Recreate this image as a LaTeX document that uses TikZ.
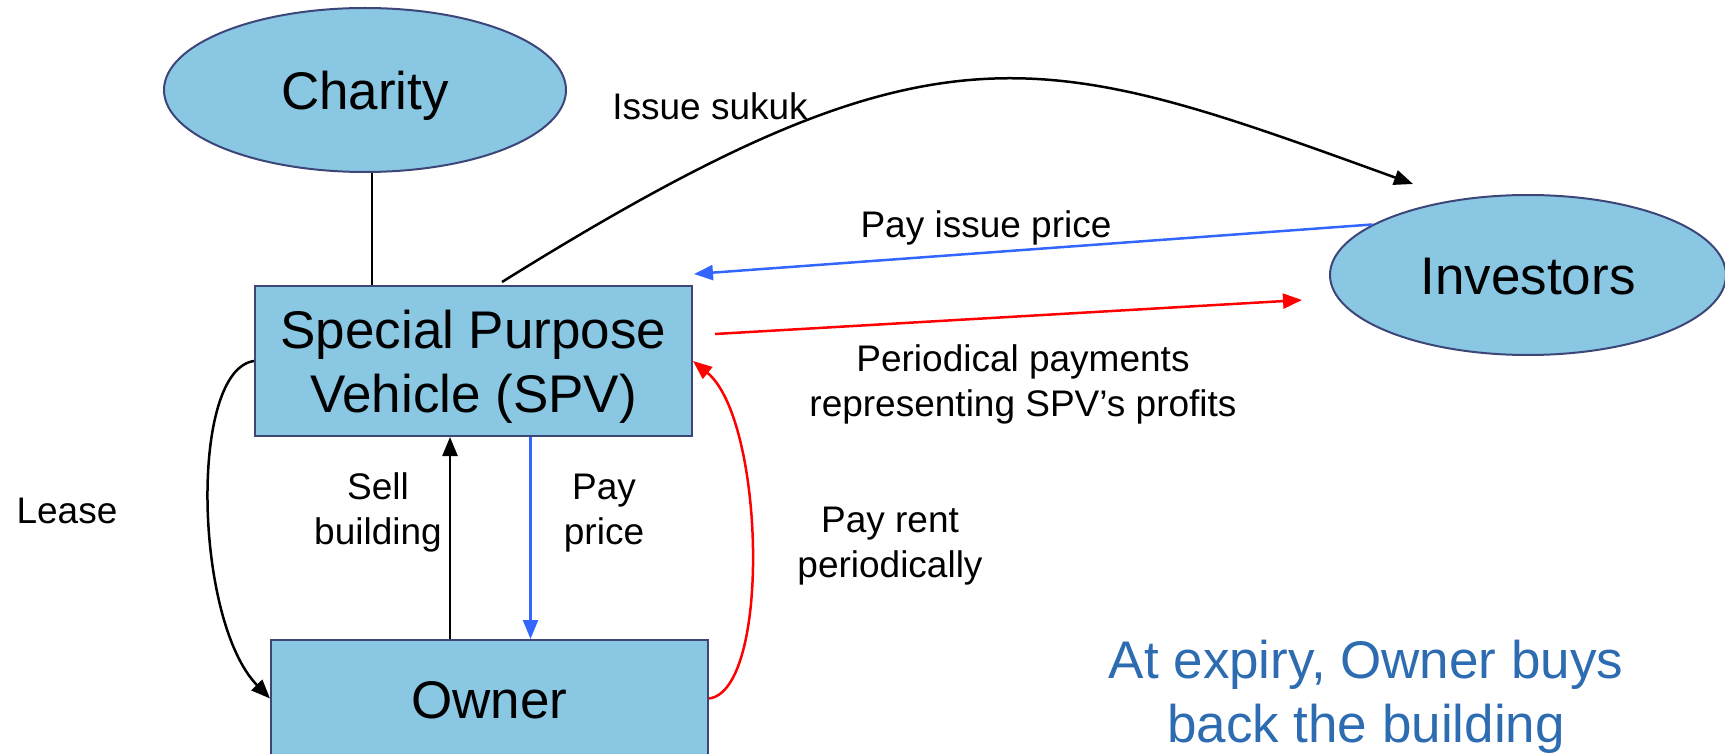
\documentclass[tikz,border=0pt]{standalone}
\usepackage{fontspec}
\setmainfont{Liberation Sans}
\usetikzlibrary{shapes.geometric,arrows.meta}
\definecolor{boxfill}{RGB}{137,199,227}
\definecolor{boxline}{RGB}{60,70,120}
\definecolor{flowblue}{RGB}{51,102,255}
\definecolor{flowred}{RGB}{255,0,0}
\definecolor{notetext}{RGB}{46,108,178}
\tikzset{
  bigfont/.style={font=\fontsize{26.5pt}{32pt}\selectfont},
  smallfont/.style={font=\fontsize{18.5pt}{22.5pt}\selectfont},
  party/.style={draw=boxline, fill=boxfill, line width=1pt, inner sep=0pt,
    bigfont, text height=20pt, text depth=0pt},
  oval/.style={party, ellipse},
  block/.style={party, rectangle, align=center},
  % multi-line tags sit on the baseline of their last line
  tag/.style={smallfont, align=center, anchor=base, inner sep=0pt},
  flow/.style={line width=1.25pt, -{Triangle[length=9.5pt,width=7.5pt]}},
  link/.style={line width=1.1pt},
}
\begin{document}
\begin{tikzpicture}[x=0.5pt, y=-0.5pt]
  \useasboundingbox (0,0) rectangle (1725,754);
  \clip (0,0) rectangle (1725,754);

  % parties
  \node[oval, minimum width=201pt, minimum height=82pt] (charity) at (365,90) {Charity};
  \node[oval, minimum width=198pt, minimum height=80pt] (investors) at (1528,275) {Investors};
  \node[block, minimum width=218.5pt, minimum height=75pt, text height=51pt] (spv) at (473.5,361)
    {Special Purpose\\Vehicle (SPV)};
  \node[block, minimum width=218.5pt, minimum height=58.5pt] (owner) at (489.5,698.5) {Owner};

  % labels
  \node[tag] (lblsukuk) at (710,120) {Issue sukuk};
  \node[tag] (lblissue) at (986,238) {Pay issue price};
  \node[tag] (lblperiodic) at (1023,416) {Periodical payments\\representing SPV’s profits};
  \node[tag] (lbllease) at (67,523) {Lease};
  \node[tag] (lblsell) at (378,544) {Sell\\building};
  \node[tag] (lblpay) at (604,544) {Pay\\price};
  \node[tag] (lblrent) at (890,577) {Pay rent\\periodically};
  \node[tag, bigfont, text=notetext] (note) at (1366,742) {At expiry, Owner buys\\back the building};

  % connectors
  \draw[link] ([xshift=3.5pt]charity.south) -- ([xshift=3.5pt]charity.south |- spv.north);
  \draw[flow] ([xshift=14.25pt,yshift=1.5pt]spv.north)
    .. controls +(438,-273) and +(-373,-135) .. ([xshift=-57.5pt,yshift=5pt]investors.north);
  \draw[flow, flowblue] (investors.162) -- ([xshift=0.5pt,yshift=5.5pt]spv.north east);
  \draw[flow, flowred] ([xshift=11pt,yshift=13.5pt]spv.east) -- ([xshift=-13.5pt,yshift=-12.5pt]investors.west);
  \draw[flow] (spv.west) .. controls +(-65,9) and +(-76,-78) .. (owner.west);
  \draw[flow, flowred] (owner.east) .. controls +(62,-8) and +(72,59) .. (spv.east);
  \draw[flow] ([xshift=-19.75pt]owner.north) -- ([xshift=-19.75pt]owner.north |- spv.south);
  \draw[flow, flowblue] ([xshift=28.5pt]spv.south) -- ([xshift=28.5pt]spv.south |- owner.north);
\end{tikzpicture}
\end{document}
